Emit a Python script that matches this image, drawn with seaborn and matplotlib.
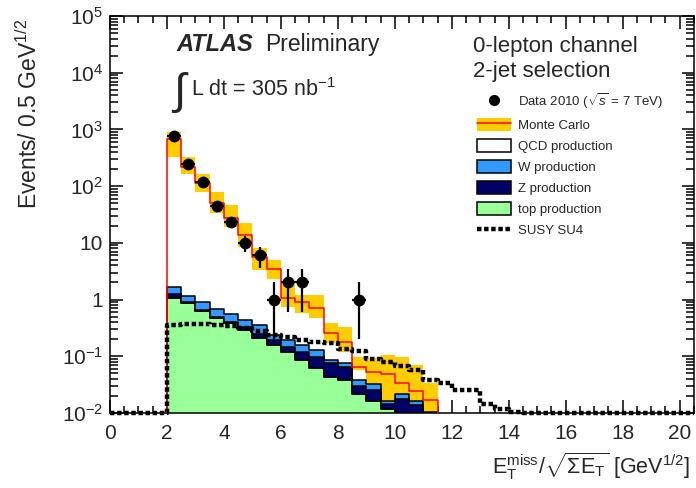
import numpy as np
import pandas as pd
import matplotlib
matplotlib.use("Agg")
import matplotlib.pyplot as plt
from matplotlib.patches import Patch
from matplotlib.lines import Line2D
from matplotlib.legend_handler import HandlerTuple
from matplotlib.ticker import LogLocator, MultipleLocator, NullFormatter
import seaborn as sns

# ---------------------------------------------------------------- data
BIN_WIDTH = 0.5
X_MIN, X_MAX = 0.0, 20.5
Y_MIN, Y_MAX = 1e-2, 1e5

# observed events (bin centres, counts, asymmetric errors)
data_x = [2.25, 2.75, 3.25, 3.75, 4.25, 4.75, 5.25, 5.75, 6.25, 6.75, 8.75]
data_n = [770, 250, 118, 45, 23, 10, 6, 1, 2, 2, 1]
data_err_lo = [28, 16, 11, 6.7, 4.8, 3.2, 2.4, 0.8, 1.4, 1.4, 0.8]
data_err_hi = [28, 16, 11, 6.7, 4.8, 3.2, 2.4, 1.0, 1.4, 1.4, 1.0]

# Monte Carlo, bins of 0.5 starting at 2.0
mc_first_edge = 2.0
mc_total = [678, 220, 112, 50, 27, 13.7, 5.7, 3.4, 1.05, 0.92, 0.70,
            0.26, 0.18, 0.066, 0.052, 0.048, 0.034, 0.024, 0.017]
mc_band_hi = [912, 330, 163, 80, 46, 22, 8.0, 5.0, 1.93, 1.2, 1.2,
              0.38, 0.33, 0.098, 0.092, 0.105, 0.098, 0.07, 0.034]
mc_band_lo = [322, 163, 80, 34, 19.2, 8.5, 3.3, 2.27, 0.75, 0.57, 0.47,
              0.169, 0.12, 0.057, 0.026, 0.008, 0.005, 0.005, 0.005]

# stacked background components (same bins as mc_total)
top_prod = [1.05, 0.857, 0.63, 0.466, 0.38, 0.29, 0.206, 0.158, 0.12, 0.086,
            0.061, 0.044, 0.038, 0.022, 0.016, 0.012, 0.0, 0.0, 0.0]
z_prod = [0.20, 0.033, 0.02, 0.034, 0.025, 0.04, 0.044, 0.035, 0.027, 0.034,
          0.037, 0.031, 0.026, 0.008, 0.009, 0.0025, 0.018, 0.0137, 0.0]
w_prod = [0.39, 0.26, 0.24, 0.18, 0.15, 0.105, 0.105, 0.044, 0.046, 0.038,
          0.031, 0.011, 0.011, 0.008, 0.008, 0.0015, 0.0036, 0.0023, 0.0105]

# SUSY SU4 signal, bins of 0.5 starting at 2.0
susy_first_edge = 2.0
susy_su4 = [0.355, 0.37, 0.37, 0.355, 0.34, 0.32, 0.28, 0.24, 0.22, 0.193,
            0.175, 0.17, 0.135, 0.124, 0.089, 0.08, 0.068, 0.058, 0.038,
            0.034, 0.025, 0.025, 0.0145, 0.012, 0.0103]

x_tick_values = [0, 2, 4, 6, 8, 10, 12, 14, 16, 18, 20]
y_tick_values = [1e-2, 1e-1, 1, 10, 1e2, 1e3, 1e4, 1e5]
y_tick_labels = [r"$10^{-2}$", r"$10^{-1}$", "1", "10",
                 r"$10^{2}$", r"$10^{3}$", r"$10^{4}$", r"$10^{5}$"]

legend_labels = ["Data 2010 ($\\sqrt{s}$ = 7 TeV)", "Monte Carlo",
                 "QCD production", "W production", "Z production",
                 "top production", "SUSY SU4"]

# ---------------------------------------------------------------- style
C_BAND = "#ffcc00"
C_MC = "#ff0000"
C_W = "#3399ff"
C_Z = "#000066"
C_TOP = "#99ff99"

sns.set_style("ticks")
plt.rcParams["font.family"] = ["Liberation Sans", "DejaVu Sans"]
plt.rcParams["mathtext.fontset"] = "custom"
plt.rcParams["mathtext.rm"] = "Liberation Sans"
plt.rcParams["mathtext.it"] = "Liberation Sans:italic"
plt.rcParams["mathtext.bf"] = "Liberation Sans:bold"
plt.rcParams["mathtext.sf"] = "Liberation Sans"

fig = plt.figure(figsize=(6.96, 4.88), dpi=100)
ax = fig.add_axes([0.158, 0.1537, 0.839, 0.8135])
ax.set_yscale("log")

full_edges = np.arange(X_MIN, X_MAX + BIN_WIDTH / 2, BIN_WIDTH)
full_centers = full_edges[:-1] + BIN_WIDTH / 2

n_mc = len(mc_total)
mc_edges = mc_first_edge + BIN_WIDTH * np.arange(n_mc + 1)
mc_centers = mc_edges[:-1] + BIN_WIDTH / 2

# MC uncertainty band
band_lo = np.array(mc_band_lo)
band_hi = np.array(mc_band_hi)
ax.bar(mc_centers, band_hi - band_lo, bottom=band_lo, width=BIN_WIDTH,
       color=C_BAND, linewidth=0, zorder=1)

# stacked backgrounds: last hue level ends up at the bottom of the stack
stack_df = pd.DataFrame({
    "x": np.tile(mc_centers, 3),
    "w": np.concatenate([w_prod, z_prod, top_prod]),
    "proc": np.repeat(["W", "Z", "top"], n_mc),
})
sns.histplot(data=stack_df, x="x", weights="w", hue="proc",
             hue_order=["W", "Z", "top"], bins=mc_edges.tolist(),
             multiple="stack", element="step", fill=True, alpha=1,
             palette={"W": C_W, "Z": C_Z, "top": C_TOP},
             edgecolor="black", linewidth=1.1, legend=False, ax=ax, zorder=2)

# total MC as a red step outline (zero outside its range)
sns.histplot(x=mc_centers, weights=mc_total, bins=full_edges.tolist(),
             element="step", fill=False, color=C_MC, linewidth=1.1,
             ax=ax, zorder=3)

# SUSY SU4 signal, empty bins drawn on the lower frame
n_su = len(susy_su4)
susy_full = np.zeros(len(full_centers))
start = int(round((susy_first_edge - X_MIN) / BIN_WIDTH))
susy_full[start:start + n_su] = susy_su4
sns.histplot(x=full_centers, weights=np.maximum(susy_full, Y_MIN),
             bins=full_edges.tolist(), element="step", fill=False,
             color="black", linewidth=3.2, linestyle=(0, (1.0, 0.6)),
             ax=ax, zorder=4, clip_on=False)

# data points
ax.errorbar(data_x, data_n, yerr=[data_err_lo, data_err_hi],
            xerr=BIN_WIDTH / 2, fmt="o", color="black", ms=7.5,
            elinewidth=1.6, capsize=0, zorder=6)

# ---------------------------------------------------------------- axes
ax.set_xlim(X_MIN, X_MAX)
ax.set_ylim(Y_MIN, Y_MAX)
ax.set_xlabel("")
ax.set_ylabel("")
ax.set_xticks(x_tick_values)
ax.set_xticklabels([str(v) for v in x_tick_values])
ax.xaxis.set_minor_locator(MultipleLocator(BIN_WIDTH))
ax.set_yticks(y_tick_values)
ax.set_yticklabels(y_tick_labels)
ax.yaxis.set_minor_locator(LogLocator(base=10, subs=np.arange(2, 10)))
ax.yaxis.set_minor_formatter(NullFormatter())

for s in ax.spines.values():
    s.set_linewidth(1.1)
    s.set_color("black")
ax.tick_params(which="both", direction="in", top=True, right=True,
               width=1.1, color="black")
ax.tick_params(axis="x", which="major", length=9.5, labelsize=15, pad=8)
ax.tick_params(axis="x", which="minor", length=5)
ax.tick_params(axis="y", which="major", length=9, labelsize=15, pad=5)
ax.tick_params(axis="y", which="minor", length=5.5)

fig.text(0.042, 0.962, "Events/ 0.5 GeV$^{1/2}$", rotation=90,
         ha="center", va="top", fontsize=16.5)
fig.text(0.992, 0.012,
         r"$\mathrm{E}_{\mathrm{T}}^{\mathrm{miss}}/\sqrt{\Sigma\mathrm{E}_{\mathrm{T}}}$"
         r" [GeV$^{1/2}$]",
         ha="right", va="bottom", fontsize=15.5)

# ---------------------------------------------------------------- labels
fig.text(176 / 696, 1 - 51 / 488, "ATLAS", fontsize=17,
         fontweight="bold", fontstyle="italic", ha="left", va="baseline")
fig.text(265 / 696, 1 - 51 / 488, "Preliminary", fontsize=16.5,
         ha="left", va="baseline")
fig.text(171 / 696, 1 - 104 / 488, r"$\int$", fontsize=32,
         ha="left", va="baseline")
fig.text(191 / 696, 1 - 96 / 488, "L dt = 305 nb$^{-1}$", fontsize=15.5,
         ha="left", va="baseline")
fig.text(473 / 696, 1 - 52 / 488, "0-lepton channel", fontsize=16,
         ha="left", va="baseline")
fig.text(473 / 696, 1 - 77 / 488, "2-jet selection", fontsize=16,
         ha="left", va="baseline")

handles = [
    Line2D([], [], marker="o", color="black", linestyle="none", ms=7),
    (Patch(facecolor=C_BAND, edgecolor="none"),
     Line2D([], [], color=C_MC, linewidth=1.1)),
    Patch(facecolor="white", edgecolor="black", linewidth=1.1),
    Patch(facecolor=C_W, edgecolor="black", linewidth=1.1),
    Patch(facecolor=C_Z, edgecolor="black", linewidth=1.1),
    Patch(facecolor=C_TOP, edgecolor="black", linewidth=1.1),
    Line2D([], [], color="black", linewidth=3.2, linestyle=(0, (1.0, 0.6))),
]
fig.legend(handles, legend_labels, loc="upper left",
           bbox_to_anchor=(477 / 696, 1 - 91 / 488),
           bbox_transform=fig.transFigure, frameon=False, fontsize=9.5,
           handlelength=2.6, handleheight=1.1, handletextpad=0.5,
           labelspacing=0.55, borderpad=0, borderaxespad=0,
           handler_map={tuple: HandlerTuple(ndivide=1)})

fig.savefig("out.png", dpi=100)
